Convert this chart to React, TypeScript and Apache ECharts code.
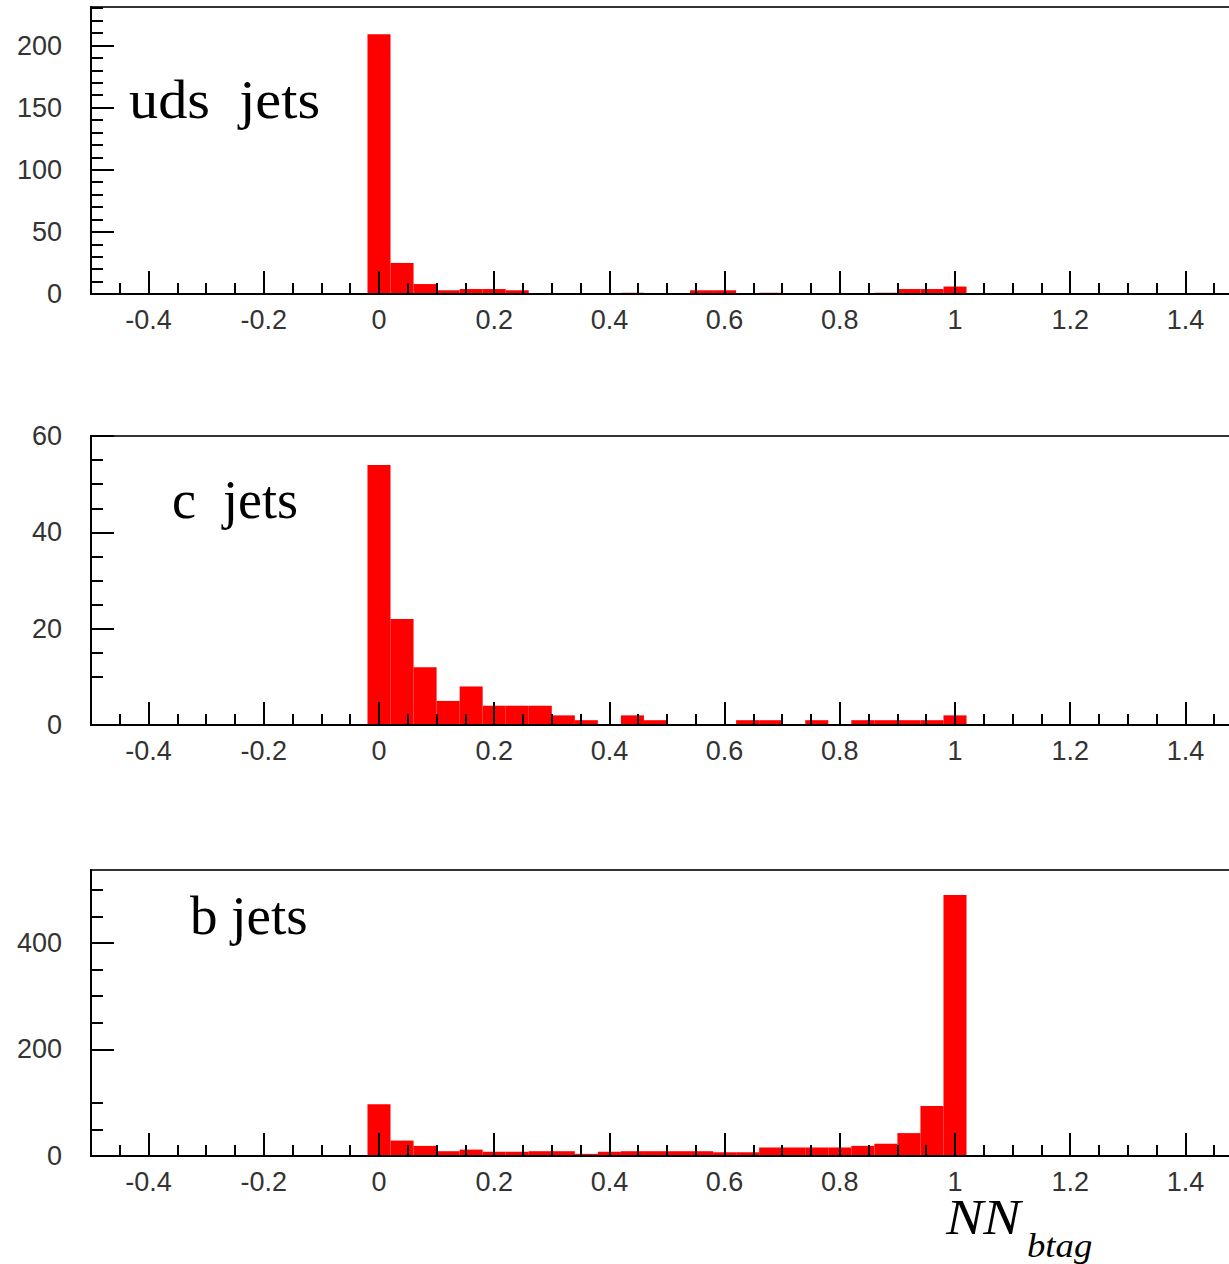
import React, { useEffect, useRef } from "react";
import * as echarts from "echarts";

// Histogram bins: centres and common width
const binCenters = [
  0, 0.04, 0.08, 0.12, 0.16, 0.2, 0.24, 0.28, 0.32, 0.36, 0.4, 0.44, 0.48,
  0.52, 0.56, 0.6, 0.64, 0.68, 0.72, 0.76, 0.8, 0.84, 0.88, 0.92, 0.96, 1.0,
];
const binWidth = 0.04;

// Entries per bin for each jet flavour
const udsCounts = [209, 25, 8, 3, 4, 4, 3, 0, 0, 0, 0, 1, 0, 0, 3, 3, 0, 1, 0, 0, 0, 0, 1, 4, 4, 6];
const cCounts = [54, 22, 12, 5, 8, 4, 4, 4, 2, 1, 0, 2, 1, 0, 0, 0, 1, 1, 0, 1, 0, 1, 1, 1, 1, 2];
const bCounts = [97, 29, 19, 9, 12, 8, 8, 9, 9, 4, 8, 9, 9, 9, 9, 7, 7, 16, 16, 16, 16, 19, 23, 43, 94, 490];

// Horizontal axis ticks
const xMajorTicks = [-0.4, -0.2, 0, 0.2, 0.4, 0.6, 0.8, 1, 1.2, 1.4];
const xMinorTicks = [
  -0.45, -0.35, -0.3, -0.25, -0.15, -0.1, -0.05, 0.05, 0.1, 0.15, 0.25, 0.3,
  0.35, 0.45, 0.5, 0.55, 0.65, 0.7, 0.75, 0.85, 0.9, 0.95, 1.05, 1.1, 1.15,
  1.25, 1.3, 1.35, 1.45,
];

// Vertical axis ticks per panel
const udsMajorTicks = [0, 50, 100, 150, 200];
const udsMinorTicks = [10, 20, 30, 40, 60, 70, 80, 90, 110, 120, 130, 140, 160, 170, 180, 190, 210, 220, 230];
const cMajorTicks = [0, 20, 40, 60];
const cMinorTicks = [10, 15, 25, 30, 35, 45, 50, 55];
const bMajorTicks = [0, 200, 400];
const bMinorTicks = [50, 100, 250, 300, 350, 450, 500];

const panelLabels = ["uds  jets", "c  jets", "b jets"];

const X_MIN = -0.5;
const X_MAX = 1.5;

const panels = [
  { counts: udsCounts, yMax: 231, major: udsMajorTicks, minor: udsMinorTicks, top: 7, height: 287, label: panelLabels[0], lx: 129, ly: 100, sx: 1.08 },
  { counts: cCounts, yMax: 60, major: cMajorTicks, minor: cMinorTicks, top: 436, height: 289, label: panelLabels[1], lx: 172, ly: 500, sx: 1 },
  { counts: bCounts, yMax: 537, major: bMajorTicks, minor: bMinorTicks, top: 870, height: 286, label: panelLabels[2], lx: 190, ly: 916, sx: 1.02 },
];

const AXIS_COLOR = "#000";
const LABEL_COLOR = "#333";
const LABEL_FONT = "Liberation Sans";

function renderBin(params: any, api: any) {
  const lo = api.value(0);
  const hi = api.value(1);
  const n = api.value(2);
  const p0 = api.coord([lo, 0]);
  const p1 = api.coord([hi, n]);
  return {
    type: "rect",
    shape: { x: p0[0], y: p1[1], width: p1[0] - p0[0], height: p0[1] - p1[1] },
    style: { fill: "#ff0000" },
  };
}

export default function App() {
  const ref = useRef<HTMLDivElement>(null);

  useEffect(() => {
    if (!ref.current) return;
    const chart = echarts.init(ref.current, null, { renderer: "svg" });

    const grid: any[] = [];
    const xAxis: any[] = [];
    const yAxis: any[] = [];
    const series: any[] = [];
    const graphic: any[] = [];

    panels.forEach((p, i) => {
      grid.push({
        left: 91,
        right: 7,
        top: p.top,
        height: p.height,
        show: true,
        borderColor: "#333",
        borderWidth: 2,
        backgroundColor: "transparent",
      });
      const tickStyle = { color: AXIS_COLOR, width: 2 };
      xAxis.push(
        {
          type: "value",
          gridIndex: i,
          min: X_MIN,
          max: X_MAX,
          position: "bottom",
          z: 5,
          axisLine: { show: true, onZero: false, lineStyle: { color: AXIS_COLOR, width: 2 } },
          axisTick: { show: true, inside: true, length: 23, customValues: xMajorTicks, lineStyle: tickStyle },
          axisLabel: {
            show: true,
            customValues: xMajorTicks,
            margin: 12,
            fontSize: 27,
            fontFamily: LABEL_FONT,
            color: LABEL_COLOR,
          },
          splitLine: { show: false },
        },
        {
          type: "value",
          gridIndex: i,
          min: X_MIN,
          max: X_MAX,
          position: "bottom",
          z: 5,
          axisLine: { show: false, onZero: false },
          axisTick: { show: true, inside: true, length: 11, customValues: xMinorTicks, lineStyle: tickStyle },
          axisLabel: { show: false },
          splitLine: { show: false },
        }
      );
      yAxis.push(
        {
          type: "value",
          gridIndex: i,
          min: 0,
          max: p.yMax,
          position: "left",
          z: 5,
          axisLine: { show: true, onZero: false, lineStyle: { color: AXIS_COLOR, width: 2 } },
          axisTick: { show: true, inside: true, length: 23, customValues: p.major, lineStyle: tickStyle },
          axisLabel: {
            show: true,
            customValues: p.major,
            margin: 29,
            fontSize: 27,
            fontFamily: LABEL_FONT,
            color: LABEL_COLOR,
          },
          splitLine: { show: false },
        },
        {
          type: "value",
          gridIndex: i,
          min: 0,
          max: p.yMax,
          position: "left",
          z: 5,
          axisLine: { show: false, onZero: false },
          axisTick: { show: true, inside: true, length: 12, customValues: p.minor, lineStyle: tickStyle },
          axisLabel: { show: false },
          splitLine: { show: false },
        }
      );
      series.push({
        type: "custom",
        xAxisIndex: 2 * i,
        yAxisIndex: 2 * i,
        renderItem: renderBin,
        encode: { x: [0, 1], y: 2 },
        clip: true,
        z: 2,
        data: binCenters.map((c, k) => [c - binWidth / 2, c + binWidth / 2, p.counts[k]]),
      });
      graphic.push({
        type: "text",
        x: p.lx,
        y: p.ly,
        scaleX: p.sx,
        z: 10,
        style: {
          text: p.label,
          font: '54px "Liberation Serif"',
          fill: "#000",
          textAlign: "left",
          textVerticalAlign: "middle",
        },
      });
    });

    // x-axis title: NN with subscript btag
    graphic.push(
      {
        type: "text",
        x: 946,
        y: 1217,
        scaleX: 1.12,
        z: 10,
        style: {
          text: "NN",
          font: 'italic 50px "Liberation Serif"',
          lineHeight: 36,
          fill: "#000",
          textAlign: "left",
          textVerticalAlign: "middle",
        },
      },
      {
        type: "text",
        x: 1027,
        y: 1245,
        scaleX: 1.08,
        z: 10,
        style: {
          text: "btag",
          font: 'italic 34px "Liberation Serif"',
          lineHeight: 30,
          fill: "#000",
          textAlign: "left",
          textVerticalAlign: "middle",
        },
      }
    );

    chart.setOption({
      animation: false,
      backgroundColor: "#fff",
      grid,
      xAxis,
      yAxis,
      series,
      graphic,
    });

    return () => chart.dispose();
  }, []);

  return (
    <div
      style={{
        position: "absolute",
        left: 0,
        top: 0,
        width: 1229,
        height: 1264,
        overflow: "hidden",
        background: "#fff",
      }}
    >
      <div ref={ref} style={{ width: 1250, height: 1264 }} />
    </div>
  );
}
